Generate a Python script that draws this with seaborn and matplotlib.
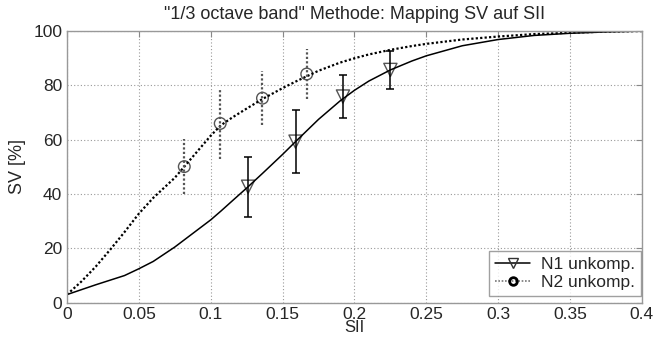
import numpy as np
import pandas as pd
import matplotlib
matplotlib.use("Agg")
import matplotlib.pyplot as plt
import seaborn as sns
from matplotlib.lines import Line2D

# --- data ---
curve_sii = [0.0, 0.01, 0.02, 0.03, 0.04, 0.05, 0.06, 0.075, 0.09, 0.1, 0.107,
             0.115, 0.126, 0.136, 0.15, 0.159, 0.175, 0.19, 0.2, 0.21, 0.225,
             0.24, 0.25, 0.275, 0.3, 0.325, 0.35, 0.375, 0.4]
n1_curve = [3.0, 4.8, 6.6, 8.3, 10.0, 12.5, 15.2, 20.5, 26.5, 30.5, 33.7,
            37.5, 42.7, 47.6, 54.6, 59.3, 67.5, 74.3, 78.2, 81.6, 85.7,
            89.0, 90.9, 94.6, 96.9, 98.4, 99.2, 99.7, 100.0]
n2_curve = [3.0, 7.8, 13.3, 19.5, 26.0, 32.8, 38.6, 46.0, 55.3, 61.5, 65.3,
            68.2, 71.8, 75.0, 79.0, 81.4, 85.4, 88.4, 90.0, 91.4, 93.1,
            94.5, 95.3, 96.9, 98.0, 98.9, 99.4, 99.8, 100.0]

n1_x = [0.126, 0.159, 0.192, 0.225]
n1_y = [42.7, 59.3, 75.9, 85.7]
n1_err = [11.0, 11.7, 8.0, 6.9]

n2_x = [0.0816, 0.1066, 0.136, 0.1668]
n2_y = [50.1, 66.0, 75.3, 84.2]
n2_err = [10.0, 13.0, 10.0, 9.2]

x_ticks = [0, 0.05, 0.1, 0.15, 0.2, 0.25, 0.3, 0.35, 0.4]
x_tick_labels = ["0", "0.05", "0.1", "0.15", "0.2", "0.25", "0.3", "0.35", "0.4"]
y_ticks = [0, 20, 40, 60, 80, 100]

sns.set_style("white")
plt.rcParams['font.family'] = ['Liberation Sans', 'DejaVu Sans']

fig = plt.figure(figsize=(6.55, 3.38), dpi=100)
ax = fig.add_axes([0.1023, 0.1044, 0.8777, 0.8036])

df = pd.DataFrame({"SII": curve_sii, "N1": n1_curve, "N2": n2_curve})
sns.lineplot(data=df, x="SII", y="N2", ax=ax, color="black", lw=1.6,
             linestyle=(0, (1, 1)))
sns.lineplot(data=df, x="SII", y="N1", ax=ax, color="black", lw=1.1)

# error bars
ax.errorbar(n1_x, n1_y, yerr=n1_err, fmt="none", ecolor="black",
            elinewidth=1.1, capsize=3, capthick=1.1)
eb = ax.errorbar(n2_x, n2_y, yerr=n2_err, fmt="none", ecolor="#555555",
                 elinewidth=1.6)
eb[2][0].set_linestyle((0, (1, 1)))

# markers
sns.scatterplot(x=n1_x, y=n1_y, ax=ax, marker="v", s=90, facecolor="none",
                edgecolor="#555555", linewidth=1.0)
sns.scatterplot(x=n2_x, y=n2_y, ax=ax, marker="o", s=70, facecolor="none",
                edgecolor="#555555", linewidth=1.0)

ax.set_xlim(0, 0.4)
ax.set_ylim(0, 100)
ax.set_xticks(x_ticks)
ax.set_xticklabels(x_tick_labels)
ax.set_yticks(y_ticks)
ax.grid(True, color="#999999", linestyle=(0, (1, 2)), linewidth=0.8)
ax.tick_params(direction="in", length=4, width=0.8, color="#888888",
               labelsize=12.5, top=True, right=True)
ax.tick_params(axis="x", pad=3)
ax.tick_params(axis="y", pad=3.5)
for s in ax.spines.values():
    s.set_color("#999999")
    s.set_linewidth(1.0)

ax.set_title('"1/3 octave band" Methode: Mapping SV auf SII', fontsize=13, pad=9)
ax.set_xlabel("SII", fontsize=12, labelpad=-1)
ax.set_ylabel("SV [%]", fontsize=13, labelpad=5)

handles = [
    Line2D([], [], color="black", lw=1.1, marker="v", markersize=7,
           markerfacecolor="none", markeredgecolor="#333333"),
    Line2D([], [], color="#777777", lw=1.2, linestyle=(0, (1, 1)), marker="o",
           markersize=5.5, markerfacecolor="none", markeredgecolor="black",
           markeredgewidth=2),
]
leg = ax.legend(handles, ["N1 unkomp.", "N2 unkomp."], loc="lower right",
                bbox_to_anchor=(0.998, 0.025), borderaxespad=0,
                fontsize=12.5, frameon=True, fancybox=False,
                handlelength=2.0, handletextpad=0.6, labelspacing=0.15,
                borderpad=0.35)
leg.get_frame().set_edgecolor("#888888")
leg.get_frame().set_linewidth(1.0)

fig.savefig("out.png", dpi=100)
